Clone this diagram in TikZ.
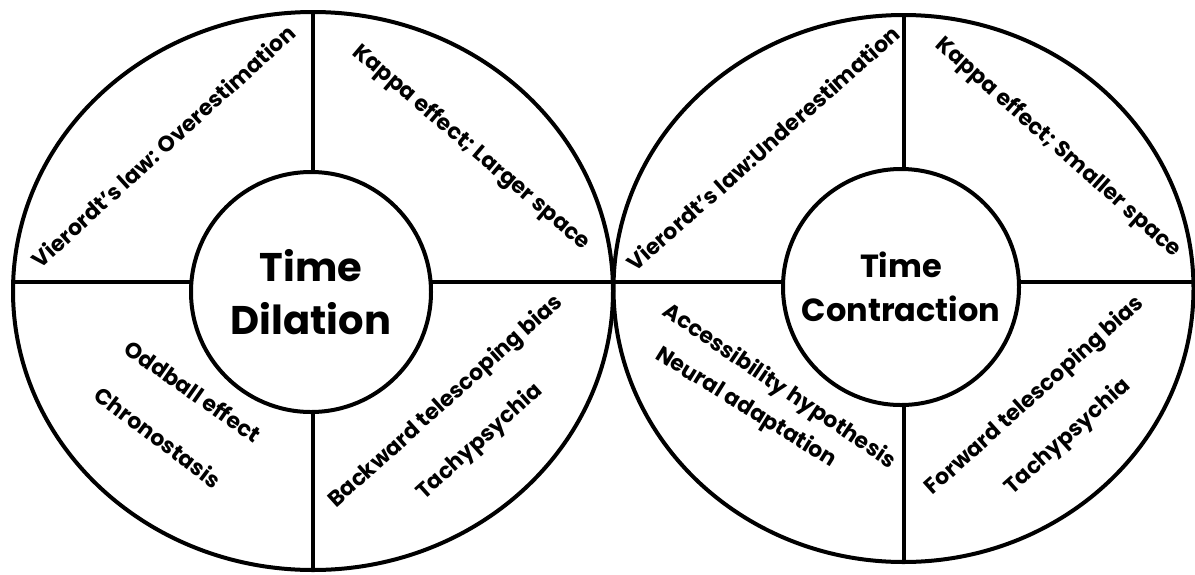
\documentclass[tikz,border=0pt]{standalone}
\usepackage{fontspec}
\setmainfont{Poppins}
\usetikzlibrary{shapes.geometric}
\begin{document}
\begin{tikzpicture}[x=0.5pt,y=-0.5pt,
  rim/.style={draw, line width=2pt, ellipse, inner sep=0pt, outer sep=0pt},
  hub/.style={draw, line width=2pt, circle, inner sep=0pt, outer sep=0pt, align=center},
  bigfont/.style={font=\bfseries\fontsize{20}{26.5}\selectfont},
  midfont/.style={font=\bfseries\fontsize{16}{22}\selectfont},
  divider/.style={line width=2pt},
  lab/.style={font=\bfseries\fontsize{11}{13}\selectfont, inner sep=0pt}]
\useasboundingbox (0,0) rectangle (1195,574);

% outer discs
\node[rim, minimum width=300pt, minimum height=279pt] (LO) at (313,291) {};
\node[rim, minimum width=290pt, minimum height=273.5pt] (RO) at (903.5,288.5) {};

% central hubs
\node[hub, bigfont, minimum size=120pt] (LI) at (311,292) {Time\\Dilation};
\node[hub, midfont, minimum size=118pt] (RI) at (901,287) {Time\\Contraction};

% quadrant dividers
\coordinate (hy) at (0,281.5);
\draw[divider] (LO.west |- hy) -- (LI.west |- hy);
\draw[divider] (LI.east |- hy) -- (RI.west |- hy);
\draw[divider] (RI.east |- hy) -- (RO.east |- hy);
\draw[divider] (LO.north) -- (LO.north |- LI.north);
\draw[divider] (LO.south) -- (LO.south |- LI.south);
\draw[divider] (RO.north) -- (RO.north |- RI.north);
\draw[divider] (RO.south) -- (RO.south |- RI.south);

% left disc labels
\node[lab, rotate=42.3]  (l1) at (163,146) {Vierordt’s law: Overestimation};
\node[lab, rotate=-40.3] (l2) at (471,148) {Kappa effect; Larger space};
\node[lab, rotate=-35]   (l3) at (193,391) {Oddball effect};
\node[lab, rotate=-37]   (l4) at (158,437) {Chronostasis};
\node[lab, rotate=42]    (l5) at (446,402) {Backward telescoping bias};
\node[lab, rotate=42]    (l6) at (480,442) {Tachypsychia};

% right disc labels
\node[lab, rotate=41.6]  (r1) at (763,148) {Vierordt’s law:Underestimation};
\node[lab, rotate=-41.5] (r2) at (1058,148) {Kappa effect; Smaller space};
\node[lab, rotate=-34]   (r3) at (779,387) {Accessibility hypothesis};
\node[lab, rotate=-31.7] (r4) at (746,408) {Neural adaptation};
\node[lab, rotate=42]    (r5) at (1035,396) {Forward telescoping bias};
\node[lab, rotate=42]    (r6) at (1068,437) {Tachypsychia};
\end{tikzpicture}
\end{document}
